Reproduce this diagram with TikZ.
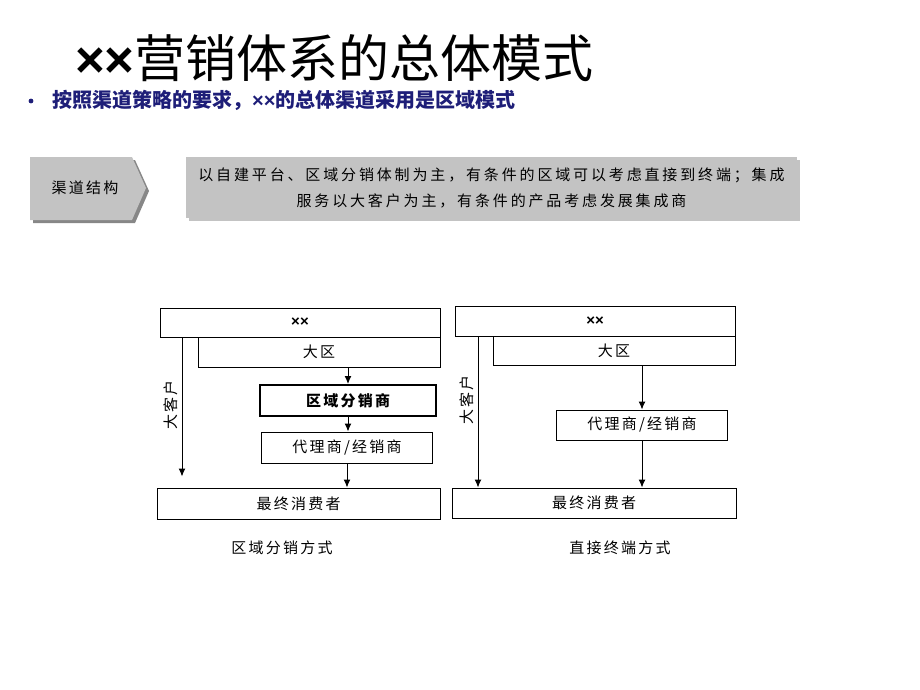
\documentclass[tikz,border=0pt]{standalone}
\usepackage{fontspec}
\usetikzlibrary{arrows.meta,shadows}
\setmainfont{Noto Sans CJK SC}
\newfontfamily\latinfont{Liberation Sans}
\newfontfamily\boxfont[LetterSpace=15]{Noto Sans CJK SC}
\newfontfamily\descfont[LetterSpace=19]{Noto Sans CJK SC}
\newcommand\xxmark{{\latinfont\bfseries ××}}
\definecolor{navy}{RGB}{30,30,120}
\definecolor{panel}{RGB}{195,195,195}
\definecolor{panelshade}{RGB}{135,135,135}

\tikzset{
  box/.style={draw,line width=1pt,inner sep=0pt,
    font=\boxfont\fontsize{15}{17}\selectfont},
  arr/.style={-{Latex[length=8pt,width=7pt]},line width=1pt},
  lbl/.style={inner sep=0pt,font=\boxfont\fontsize{15}{17}\selectfont},
}

\begin{document}
\begin{tikzpicture}[x=1pt,y=-1pt]
  \useasboundingbox (0,0) rectangle (920,690);

  % heading
  \node[anchor=base west,inner sep=0pt,font=\fontsize{51}{56}\selectfont]
    (title) at (75,78) {\xxmark 营销体系的总体模式};
  \node[circle,fill=navy,inner sep=1.7pt] (dot) at (31,101) {};
  \node[anchor=base west,inner sep=0pt,text=navy,
    font=\bfseries\fontsize{20}{22}\selectfont]
    (sub) at (52,108) {按照渠道策略的要求，\xxmark 的总体渠道采用是区域模式};

  % channel structure bar
  \fill[panelshade] (33,160) -- (135,160) -- (149,191) -- (135,223) -- (33,223) -- cycle;
  \fill[panel] (30,157) -- (132,157) -- (146,188) -- (132,220) -- (30,220) -- cycle;
  \node[lbl] (qd) at (85,188) {渠道结构};
  \node[fill=panel,minimum width=611,minimum height=61,inner sep=0pt,align=center,
    drop shadow={shadow xshift=3pt,shadow yshift=-3pt,fill=panelshade},
    font=\descfont\fontsize{15}{26}\selectfont]
    (desc) at (491.5,187.5)
    {以自建平台、区域分销体制为主，有条件的区域可以考虑直接到终端；集成\\
     服务以大客户为主，有条件的产品考虑发展集成商};

  % regional distribution
  \begin{scope}
    \node[box,minimum width=280,minimum height=29] (xxA) at (300,322.5) {\xxmark};
    \node[box,minimum width=242,minimum height=30] (dqA) at (319,352) {大区};
    \node[box,line width=2pt,minimum width=176,minimum height=31] (fxA) at (348,400.5) {\bfseries 区域分销商};
    \node[box,minimum width=171,minimum height=31] (dlA) at (347,447.5) {代理商/经销商};
    \node[box,minimum width=283,minimum height=31] (zzA) at (298.5,503.5) {最终消费者};
    \coordinate (kaA) at (182,0);
    \node[lbl,rotate=90] (dkA) at (171,405) {大客户};

    \draw[arr] (fxA.north |- dqA.south) -- (fxA.north);
    \draw[arr] (fxA.south) -- (fxA.south |- dlA.north);
    \draw[arr] (dlA.south) -- (dlA.south |- zzA.north);
    \draw[arr,shorten >=11pt] (kaA |- xxA.south) -- (kaA |- zzA.north);
    \node[lbl] (capA) at (282,548) {区域分销方式};
  \end{scope}

  % direct terminal
  \begin{scope}
    \node[box,minimum width=280,minimum height=30] (xxB) at (595,321) {\xxmark};
    \node[box,minimum width=242,minimum height=29] (dqB) at (614,350.5) {大区};
    \node[box,minimum width=171,minimum height=30] (dlB) at (642,425) {代理商/经销商};
    \node[box,minimum width=284,minimum height=30] (zzB) at (594,503) {最终消费者};
    \coordinate (kaB) at (478,0);
    \node[lbl,rotate=90] (dkB) at (467,400) {大客户};

    \draw[arr] (dlB.north |- dqB.south) -- (dlB.north);
    \draw[arr] (dlB.south) -- (dlB.south |- zzB.north);
    \draw[arr] (kaB |- xxB.south) -- (kaB |- zzB.north);
    \node[lbl] (capB) at (620,548) {直接终端方式};
  \end{scope}

\end{tikzpicture}
\end{document}
